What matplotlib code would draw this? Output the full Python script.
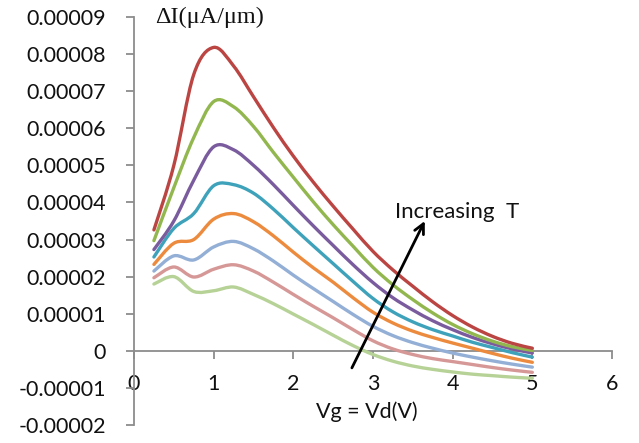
import numpy as np
import matplotlib
matplotlib.use("Agg")
import matplotlib.pyplot as plt
from matplotlib.path import Path
from matplotlib.patches import PathPatch
from matplotlib.ticker import FixedLocator, FuncFormatter

# ---------------- data (values in units of 1e-5 uA/um) ----------------
vg = [0.25, 0.5, 0.75, 1.0, 1.25, 1.5, 1.75, 2.0, 2.25, 2.5,
      2.75, 3.0, 3.25, 3.5, 3.75, 4.0, 4.25, 4.5, 4.75, 5.0]

T1 = [1.80, 2.00, 1.60, 1.62, 1.72, 1.52, 1.27, 0.99, 0.71, 0.42,
      0.14, -0.10, -0.28, -0.41, -0.50, -0.57, -0.63, -0.67, -0.71, -0.74]
T2 = [1.97, 2.26, 1.99, 2.20, 2.32, 2.15, 1.85, 1.52, 1.20, 0.89,
      0.57, 0.27, 0.05, -0.10, -0.21, -0.29, -0.37, -0.45, -0.52, -0.58]
T3 = [2.15, 2.56, 2.45, 2.80, 2.95, 2.75, 2.42, 2.04, 1.68, 1.33,
      0.98, 0.66, 0.41, 0.22, 0.07, -0.06, -0.17, -0.27, -0.36, -0.44]
T4 = [2.33, 2.90, 3.00, 3.55, 3.70, 3.48, 3.10, 2.66, 2.24, 1.85,
      1.43, 1.04, 0.75, 0.53, 0.36, 0.21, 0.07, -0.07, -0.20, -0.31]
T5 = [2.53, 3.30, 3.70, 4.45, 4.48, 4.25, 3.82, 3.32, 2.83, 2.35,
      1.87, 1.41, 1.05, 0.78, 0.57, 0.40, 0.23, 0.09, -0.05, -0.17]
T6 = [2.73, 3.50, 4.60, 5.50, 5.42, 5.00, 4.48, 3.92, 3.37, 2.84,
      2.32, 1.84, 1.43, 1.10, 0.81, 0.57, 0.36, 0.19, 0.05, -0.06]
T7 = [2.97, 4.40, 5.75, 6.72, 6.58, 6.05, 5.35, 4.68, 4.02, 3.40,
      2.82, 2.25, 1.78, 1.38, 1.02, 0.71, 0.46, 0.26, 0.11, 0.01]
T8 = [3.26, 5.00, 7.45, 8.18, 7.68, 6.85, 6.02, 5.25, 4.55, 3.90,
      3.28, 2.68, 2.18, 1.74, 1.32, 0.95, 0.64, 0.39, 0.20, 0.07]

series = [T1, T2, T3, T4, T5, T6, T7, T8]
colors = ["#B7D296", "#D69896", "#93AFD6", "#EC8B3E",
          "#3FA2BB", "#7A5C9E", "#93B74F", "#BB4542"]
scale = 1e-5

x_ticks = [0, 1, 2, 3, 4, 5, 6]
y_ticks = [-0.00002, -0.00001, 0, 0.00001, 0.00002, 0.00003, 0.00004,
           0.00005, 0.00006, 0.00007, 0.00008, 0.00009]

y_label = "ΔI(μA/μm)"
x_label = "Vg = Vd(V)"
note = "Increasing  T"
arrow_tail = (2.735, -0.46e-5)
arrow_tip = (3.65, 3.50e-5)

# ---------------- figure ----------------
fig = plt.figure(figsize=(6.39, 4.43), dpi=100)
ax = fig.add_axes([134/639, 18/443, 478/639, 408/443])
ax.set_xlim(0, 6)
ax.set_ylim(-0.00002, 0.00009)


def smooth_path(xs, ys):
    pts = np.column_stack([xs, ys])
    n = len(pts)
    verts = [pts[0]]
    codes = [Path.MOVETO]
    for i in range(n - 1):
        p0 = pts[i - 1] if i > 0 else pts[i]
        p1 = pts[i]
        p2 = pts[i + 1]
        p3 = pts[i + 2] if i + 2 < n else pts[i + 1]
        c1 = p1 + (p2 - p0) / 6.0
        c2 = p2 - (p3 - p1) / 6.0
        verts += [c1, c2, p2]
        codes += [Path.CURVE4] * 3
    return Path(verts, codes)


for vals, c in zip(series, colors):
    p = smooth_path(np.array(vg), np.array(vals) * scale)
    ax.add_patch(PathPatch(p, facecolor="none", edgecolor=c, lw=2.4,
                           capstyle="round", joinstyle="round", zorder=3))

axis_col = "#8C8C8C"
for s in ["top", "right"]:
    ax.spines[s].set_visible(False)
ax.spines["left"].set_color(axis_col)
ax.spines["left"].set_linewidth(1.3)
ax.spines["bottom"].set_color(axis_col)
ax.spines["bottom"].set_linewidth(1.3)
ax.spines["bottom"].set_position(("data", 0))

font = "Lato"
ax.xaxis.set_major_locator(FixedLocator(x_ticks))
ax.yaxis.set_major_locator(FixedLocator(y_ticks))
ax.yaxis.set_major_formatter(FuncFormatter(
    lambda v, _: "0" if abs(v) < 1e-12 else f"{v:.5f}"))
ax.xaxis.set_major_formatter(FuncFormatter(lambda v, _: f"{v:g}"))
ax.tick_params(axis="y", direction="out", length=6, width=1.3,
               color=axis_col, pad=14, labelsize=15.5)
ax.tick_params(axis="x", direction="out", length=6, width=1.3,
               color=axis_col, pad=11, labelsize=15.5)
for lab in ax.get_xticklabels() + ax.get_yticklabels():
    lab.set_fontfamily(font)
    lab.set_color("#111111")

fig.text(155/639, 1 - 17/443, y_label, family="Liberation Serif",
         fontsize=17.5, ha="left", va="center", color="#111111")
fig.text(367/639, 1 - 412/443, x_label, family=font, fontsize=15.5,
         ha="center", va="center", color="#111111")

ax.annotate("", xy=arrow_tip, xytext=arrow_tail,
            arrowprops=dict(arrowstyle="->,head_length=0.7,head_width=0.35",
                            color="black", lw=2.0, shrinkA=0, shrinkB=0),
            zorder=5)
ax.text(3.27, 3.75e-5, note, family=font, fontsize=16, ha="left",
        va="center", color="#111111")

fig.savefig("out.png", dpi=100)
